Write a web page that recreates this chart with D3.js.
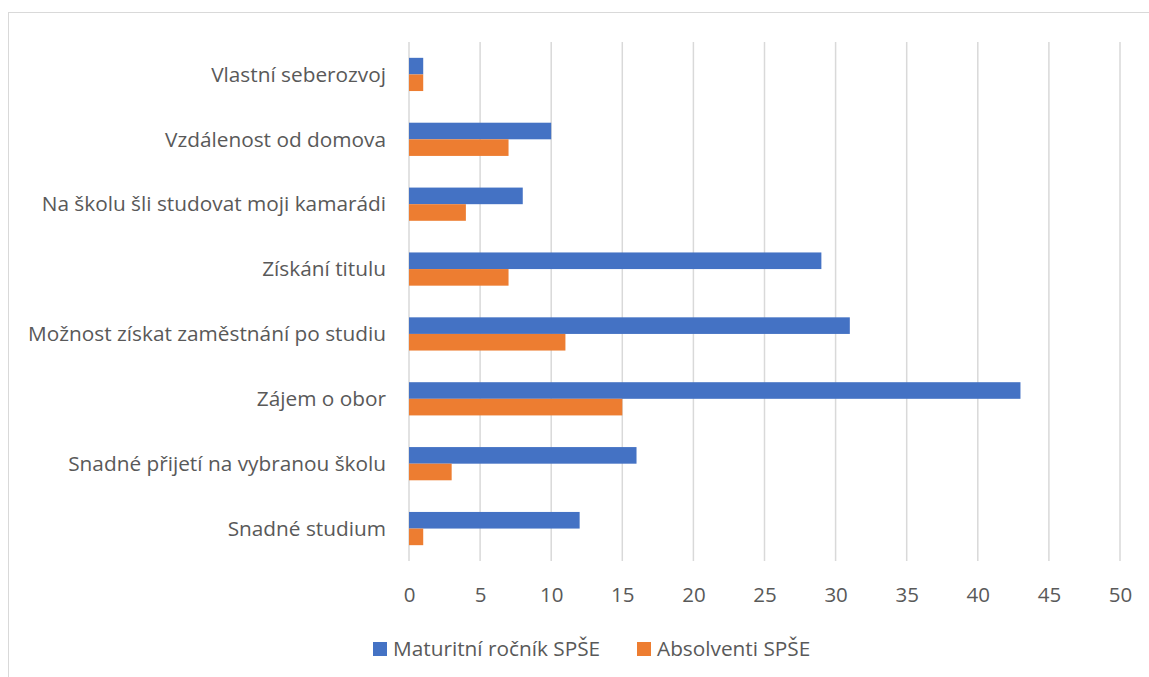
<!DOCTYPE html>
<html><head><meta charset="utf-8">
<script src="https://d3js.org/d3.v7.min.js"></script>
<style>body{margin:0;background:#fff}svg{display:block}text{font-family:"Open Sans","Noto Sans",sans-serif;fill:#595959}</style>
</head><body>
<svg id="c" width="1149" height="677"></svg>
<script>
const categories = ["Snadné studium","Snadné přijetí na vybranou školu","Zájem o obor","Možnost získat zaměstnání po studiu","Získání titulu","Na školu šli studovat moji kamarádi","Vzdálenost od domova","Vlastní seberozvoj"];
const seriesNames = ["Maturitní ročník SPŠE","Absolventi SPŠE"];
const maturitni = [12,16,43,31,29,8,10,1];
const absolventi = [1,3,15,11,7,4,7,1];
const xTicks = [0,5,10,15,20,25,30,35,40,45,50];
const colors = ["#4472C4","#ED7D31"];

(function(){
const svg = d3.select("#c");
svg.append("rect").attr("x",8.5).attr("y",12.5).attr("width",1200).attr("height",700)
  .attr("fill","#fff").attr("stroke","#d9d9d9").attr("stroke-width",1);

const pL=409, pR=1120, pT=42, pB=561;
const x = d3.scaleLinear().domain([0,50]).range([pL,pR]);
const y = d3.scaleBand().domain(categories.slice().reverse()).range([pT,pB]).paddingInner(0.488).paddingOuter(0.244);
const sub = d3.scaleBand().domain(seriesNames).range([0,y.bandwidth()]);

svg.append("g").selectAll("line").data(xTicks).join("line")
  .attr("x1",d=>x(d)).attr("x2",d=>x(d)).attr("y1",pT).attr("y2",pB)
  .attr("stroke","#d9d9d9").attr("stroke-width",1.5);

const data = categories.map((c,i)=>({c, vals:[maturitni[i],absolventi[i]]}));
const g = svg.append("g");
data.forEach(d=>{
  d.vals.forEach((v,j)=>{
    g.append("rect").attr("x",x(0)).attr("y",y(d.c)+sub(seriesNames[j]))
     .attr("width",x(v)-x(0)).attr("height",sub.bandwidth()).attr("fill",colors[j]);
  });
});

const font = '"Open Sans","Noto Sans",sans-serif';
const xa = d3.axisBottom(x).tickValues(xTicks).tickSize(0).tickPadding(0);
const xg = svg.append("g").attr("transform",`translate(0,${pB})`).call(xa);
xg.select(".domain").remove();
xg.selectAll("text").attr("y",41).attr("dy",0).style("font-size","20.5px").style("fill","#595959").style("font-family",font);

const ya = d3.axisLeft(y).tickSize(0).tickPadding(0);
const yg = svg.append("g").attr("transform",`translate(${pL},0)`).call(ya);
yg.select(".domain").remove();
yg.selectAll("text").attr("x",-23).attr("dy","0.35em").style("font-size","20.8px").style("fill","#595959").style("font-family",font);

const lg = svg.append("g");
const legX = [373,637];
seriesNames.forEach((n,i)=>{
  lg.append("rect").attr("x",legX[i]).attr("y",642).attr("width",14).attr("height",14).attr("fill",colors[i]);
  lg.append("text").attr("x",legX[i]+20).attr("y",649).attr("dy","0.35em").style("font-size","20.8px").text(n);
});
})();
</script>
</body></html>
